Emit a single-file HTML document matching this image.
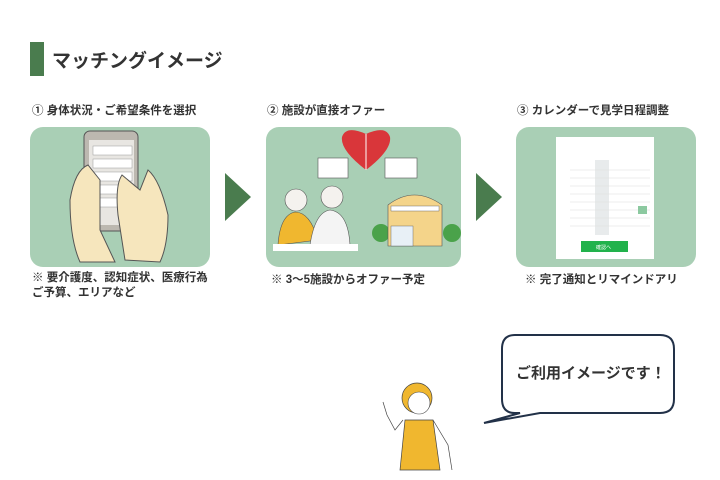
<!DOCTYPE html>
<html><head><meta charset="utf-8"><style>
html,body{margin:0;padding:0;background:#fff;}
body{width:720px;height:480px;position:relative;overflow:hidden;font-family:"Liberation Sans","Noto Sans CJK JP",sans-serif;color:#333;}
.t{position:absolute;font-weight:bold;white-space:nowrap;}
</style></head><body>
<div style="position:absolute;left:30px;top:42px;width:14px;height:34px;background:#4a7c4e"></div>
<div class="t" style="left:52px;top:46px;font-size:19px;color:#333">マッチングイメージ</div>
<div class="t" style="left:32px;top:102px;font-size:11.5px">① 身体状況・ご希望条件を選択</div>
<div class="t" style="left:267px;top:102px;font-size:11.5px">② 施設が直接オファー</div>
<div class="t" style="left:517px;top:102px;font-size:11.5px">③ カレンダーで見学日程調整</div>
<div class="t" style="left:32px;top:271px;font-size:11.5px;line-height:15px">※ 要介護度、認知症状、医療行為<br>ご予算、エリアなど</div>
<div class="t" style="left:271px;top:271px;font-size:11.5px">※ 3～5施設からオファー予定</div>
<div class="t" style="left:525px;top:271px;font-size:11.5px">※ 完了通知とリマインドアリ</div>
<svg width="720" height="480" style="position:absolute;left:0;top:0">
<rect x="30" y="127" width="180" height="140" rx="13" fill="#a9cfb5"/>
<rect x="266" y="127" width="195" height="140" rx="13" fill="#a9cfb5"/>
<rect x="516" y="127" width="180" height="140" rx="13" fill="#a9cfb5"/>
<polygon points="225,173 251,197 225,221" fill="#4a7c4e"/>
<polygon points="476,173 502,197 476,221" fill="#4a7c4e"/>
<rect x="84" y="131" width="54" height="100" rx="6" fill="#bcb8b0" stroke="#555"/>
<rect x="89" y="140" width="45" height="85" fill="#e8e6e2"/>
<g fill="#fff" stroke="#999" stroke-width=".5"><rect x="93" y="146" width="39" height="9"/><rect x="93" y="159" width="39" height="9"/><rect x="93" y="172" width="39" height="9"/><rect x="93" y="185" width="39" height="9"/><rect x="93" y="198" width="39" height="9"/></g>
<path d="M70 200 Q75 170 88 165 L100 180 L100 230 L115 262 L80 262 Q70 240 70 200Z" fill="#f6e6bd" stroke="#555"/>
<path d="M125 260 L118 215 Q115 185 122 175 L140 190 L148 170 Q160 180 168 215 Q168 245 160 262Z" fill="#f6e6bd" stroke="#555"/>
<path d="M366 170 Q340 150 342 137 Q346 125 366 134 Q386 125 390 137 Q392 150 366 170Z" fill="#d9363a"/>
<line x1="366" y1="134" x2="366" y2="170" stroke="#fff"/>
<rect x="318" y="158" width="30" height="20" fill="#fff" stroke="#555" stroke-width=".6"/>
<rect x="385" y="158" width="32" height="20" fill="#fff" stroke="#555" stroke-width=".6"/>
<path d="M278 245 Q280 215 295 212 Q310 212 318 240 Z" fill="#f0b72f" stroke="#555" stroke-width=".6"/>
<path d="M310 245 Q315 212 330 210 Q348 212 350 245 Z" fill="#f4f4f4" stroke="#555" stroke-width=".6"/>
<circle cx="296" cy="200" r="11" fill="#f4f2ee" stroke="#555" stroke-width=".6"/>
<circle cx="332" cy="197" r="11" fill="#f4f2ee" stroke="#555" stroke-width=".6"/>
<rect x="273" y="244" width="85" height="7" fill="#fff"/>
<circle cx="381" cy="233" r="9" fill="#4aa24a"/><circle cx="452" cy="233" r="9" fill="#4aa24a"/>
<path d="M388 246 L388 205 Q414 185 442 205 L442 246Z" fill="#f4d48a" stroke="#555" stroke-width=".6"/>
<rect x="391" y="206" width="48" height="5" fill="#fff" stroke="#555" stroke-width=".4"/>
<rect x="391" y="226" width="22" height="20" fill="#e8f0f6" stroke="#555" stroke-width=".4"/>
<rect x="556" y="137" width="98" height="122" fill="#fff"/>
<rect x="595" y="160" width="14" height="75" fill="#e8ebec"/>
<g stroke="#ddd" stroke-width=".5"><line x1="570" y1="170" x2="650" y2="170"/><line x1="570" y1="178" x2="650" y2="178"/><line x1="570" y1="186" x2="650" y2="186"/><line x1="570" y1="194" x2="650" y2="194"/><line x1="570" y1="202" x2="650" y2="202"/><line x1="570" y1="210" x2="650" y2="210"/><line x1="570" y1="218" x2="650" y2="218"/><line x1="570" y1="226" x2="650" y2="226"/></g>
<rect x="638" y="206" width="9" height="8" fill="#8cc9a0"/>
<rect x="581" y="241" width="47" height="11" fill="#22b24c"/>
<text x="596" y="249" font-size="5" fill="#fff">確認へ</text>
<path d="M515 335 H660 Q674 335 674 349 V399 Q674 413 660 413 H540 L484 423 L520 413 H515 Q502 413 502 399 V349 Q502 335 515 335Z" fill="#fff" stroke="#223148" stroke-width="2"/>
<path d="M405 420 L400 470 L440 470 L433 420Z" fill="#f0b72f" stroke="#444" stroke-width=".7"/>
<path d="M433 420 L448 445 L452 470" fill="none" stroke="#444" stroke-width=".7"/>
<path d="M403 420 L395 430 L387 415 L383 402" fill="none" stroke="#444" stroke-width=".7"/>
<circle cx="417" cy="398" r="15" fill="#f0b72f" stroke="#444" stroke-width=".7"/>
<circle cx="419" cy="403" r="11" fill="#fff" stroke="#444" stroke-width=".6"/>
</svg>
<div class="t" style="left:516px;top:362px;font-size:15px;color:#333">ご利用イメージです！</div>
</body></html>
